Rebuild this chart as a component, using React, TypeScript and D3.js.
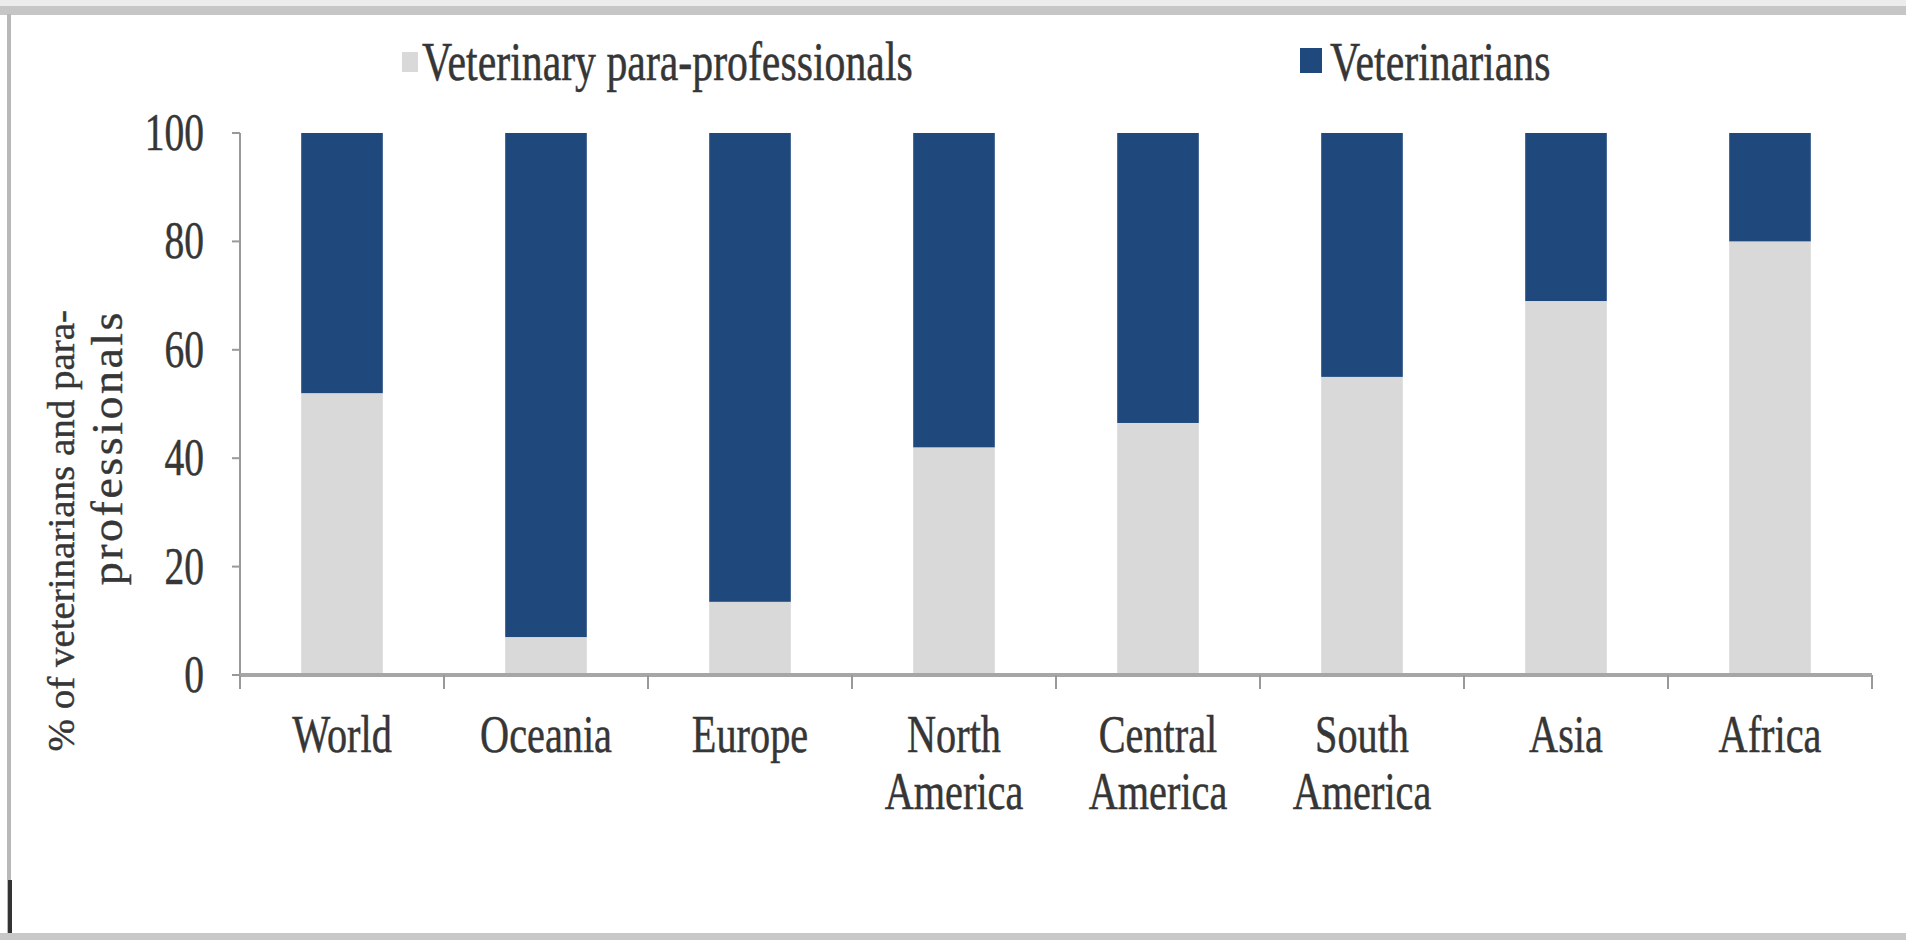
import React from 'react'
import * as d3 from 'd3'

const categories = ['World', 'Oceania', 'Europe', 'North America', 'Central America', 'South America', 'Asia', 'Africa']
const categoryLines = [['World'], ['Oceania'], ['Europe'], ['North', 'America'], ['Central', 'America'], ['South', 'America'], ['Asia'], ['Africa']]
const paraProfessionals = [52, 7, 13.5, 42, 46.5, 55, 69, 80]
const veterinarians = [48, 93, 86.5, 58, 53.5, 45, 31, 20]
const yTicks = [0, 20, 40, 60, 80, 100]
const seriesNames = ['Veterinary para-professionals', 'Veterinarians']
const seriesColors = ['#d9d9d9', '#1f497d']

const W = 1906
const H = 940
const SX = 0.76
const FONT = '"Liberation Serif", "Times New Roman", serif'
const TEXT = '#363636'

export default function App() {
  const left = 240
  const right = 1872
  const top = 133
  const bottom = 675

  const x = d3.scaleBand().domain(categories).range([left, right]).paddingInner(0.6).paddingOuter(0.3)
  const y = d3.scaleLinear().domain([0, 100]).range([bottom, top])
  const step = x.step()

  const rows = categories.map((c, i) => ({ cat: c, para: paraProfessionals[i], vet: veterinarians[i] }))
  const stacked = d3.stack().keys(['para', 'vet'])(rows as any)

  // scaled text helper: the whole picture is squeezed sideways
  const sText = (tx, ty, str, size, anchor = 'middle', key?) => (
    <text key={key} transform={`translate(${tx},${ty}) scale(${SX},1)`} textAnchor={anchor}
      fontFamily={FONT} fontSize={size} fill={TEXT} stroke={TEXT} strokeWidth={0.5}>{str}</text>
  )

  return (
    <div>
      <style>{'body{margin:0;overflow:hidden}'}</style>
      <svg width={W} height={H} style={{ display: 'block', background: '#fff' }}>
        {/* frame */}
        <rect x={0} y={0} width={W} height={6} fill="#ececec" />
        <rect x={0} y={6} width={W} height={9} fill="#c6c6c6" />
        <rect x={7} y={14} width={4} height={921} fill="#b8b8b8" />
        <rect x={8} y={880} width={4} height={55} fill="#333" />
        <rect x={0} y={933} width={W} height={7} fill="#c8c8c8" />

        {/* bars */}
        {stacked.map((s, si) => (
          <g key={si} fill={seriesColors[si]}>
            {s.map((d, i) => (
              <rect key={i} x={x(categories[i])} width={x.bandwidth()}
                y={y(d[1])} height={y(d[0]) - y(d[1])} />
            ))}
          </g>
        ))}

        {/* y axis */}
        <line x1={left} x2={left} y1={top} y2={bottom + 14} stroke="#999" strokeWidth={2} />
        {yTicks.map(t => (
          <g key={t}>
            <line x1={left - 8} x2={left} y1={y(t)} y2={y(t)} stroke="#999" strokeWidth={2} />
            {sText(left - 36, y(t) + 17, String(t), 52, 'end')}
          </g>
        ))}

        {/* x axis */}
        <line x1={left} x2={right} y1={bottom} y2={bottom} stroke="#a6a6a6" strokeWidth={4} />
        {d3.range(categories.length + 1).map(i => (
          <line key={i} x1={left + i * step} x2={left + i * step} y1={bottom} y2={bottom + 14}
            stroke="#999" strokeWidth={2} />
        ))}
        {categoryLines.map((lines, i) => (
          <g key={i}>
            {lines.map((ln, j) => sText(x(categories[i]) + x.bandwidth() / 2, 752 + j * 57, ln, 53, 'middle', j))}
          </g>
        ))}

        {/* y title */}
        <text transform="translate(74,310) scale(0.95,1) rotate(-90)" textAnchor="end"
          fontFamily={FONT} fontSize={39} fill={TEXT} stroke={TEXT} strokeWidth={0.4}>% of veterinarians and para-</text>
        <text transform="translate(122,310) scale(0.95,1) rotate(-90)" textAnchor="end"
          fontFamily={FONT} fontSize={46} letterSpacing={2.5} fill={TEXT} stroke={TEXT} strokeWidth={0.4}>professionals</text>

        {/* legend */}
        <rect x={402} y={52} width={16} height={20} fill={seriesColors[0]} />
        {sText(422, 80, seriesNames[0], 55, 'start')}
        <rect x={1300} y={48} width={22} height={25} fill={seriesColors[1]} />
        {sText(1330, 80, seriesNames[1], 55, 'start')}
      </svg>
    </div>
  )
}
